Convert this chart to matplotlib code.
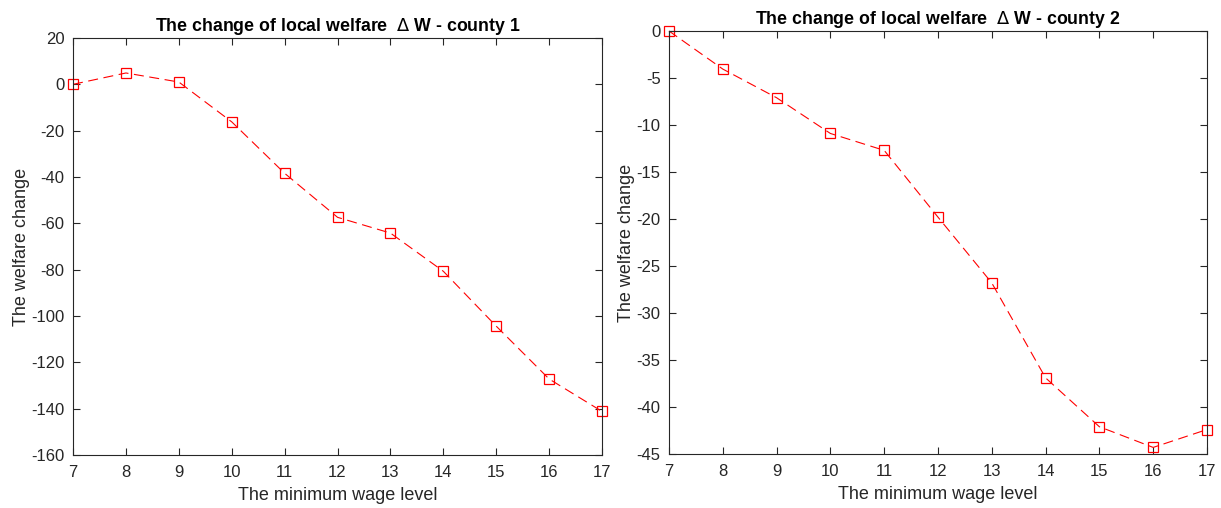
import matplotlib
matplotlib.use('Agg')
import matplotlib.pyplot as plt

# niveles de salario minimo
salario = [7, 8, 9, 10, 11, 12, 13, 14, 15, 16, 17]

# cambio de bienestar por condado
cambio_c1 = [0, 4.9, 1.0, -16.2, -38.4, -57.4, -64.2, -80.7, -104.4, -127.2, -141.2]
cambio_c2 = [0, -4.05, -7.1, -10.9, -12.7, -19.8, -26.8, -36.9, -42.1, -44.3, -42.4]

titulos = ["The change of local welfare  $\\Delta$ W - county 1",
           "The change of local welfare  $\\Delta$ W - county 2"]
ticks_y = [list(range(-160, 21, 20)), list(range(-45, 1, 5))]
lims_y = [(-160, 20), (-45, 0)]

plt.rcParams['font.family'] = ['Liberation Sans', 'DejaVu Sans']
plt.rcParams['mathtext.fontset'] = 'dejavusans'
plt.rcParams['axes.unicode_minus'] = False

fig = plt.figure(figsize=(12.21, 5.08), dpi=100)
ax1 = fig.add_axes([0.0598, 0.1043, 0.4333, 0.8209])
ax2 = fig.add_axes([0.5479, 0.1063, 0.4406, 0.8327])

gris = '#262626'
for ax, datos, titulo, ty, ly in zip([ax1, ax2], [cambio_c1, cambio_c2],
                                     titulos, ticks_y, lims_y):
    ax.plot(salario, datos, color='red', linestyle=(0, (9, 5)), linewidth=0.8,
            marker='s', markersize=7, markerfacecolor='none',
            markeredgecolor='red', markeredgewidth=0.9, clip_on=False)
    ax.set_xlim(7, 17)
    ax.set_ylim(*ly)
    ax.set_xticks(salario)
    ax.set_yticks(ty)
    ax.tick_params(direction='in', top=True, right=True, length=5,
                   width=0.8, colors=gris, labelsize=12)
    ax.tick_params(axis='x', pad=7)
    ax.tick_params(axis='y', pad=6)
    for s in ax.spines.values():
        s.set_color(gris)
        s.set_linewidth(0.8)
    ax.set_xlabel("The minimum wage level", fontsize=13, color=gris, labelpad=5)
    ax.set_ylabel("The welfare change", fontsize=13, color=gris, labelpad=1)
    ax.set_title(titulo, fontsize=12.8, fontweight='bold', pad=5)

fig.savefig("out.png", dpi=100)
plt.close("all")
